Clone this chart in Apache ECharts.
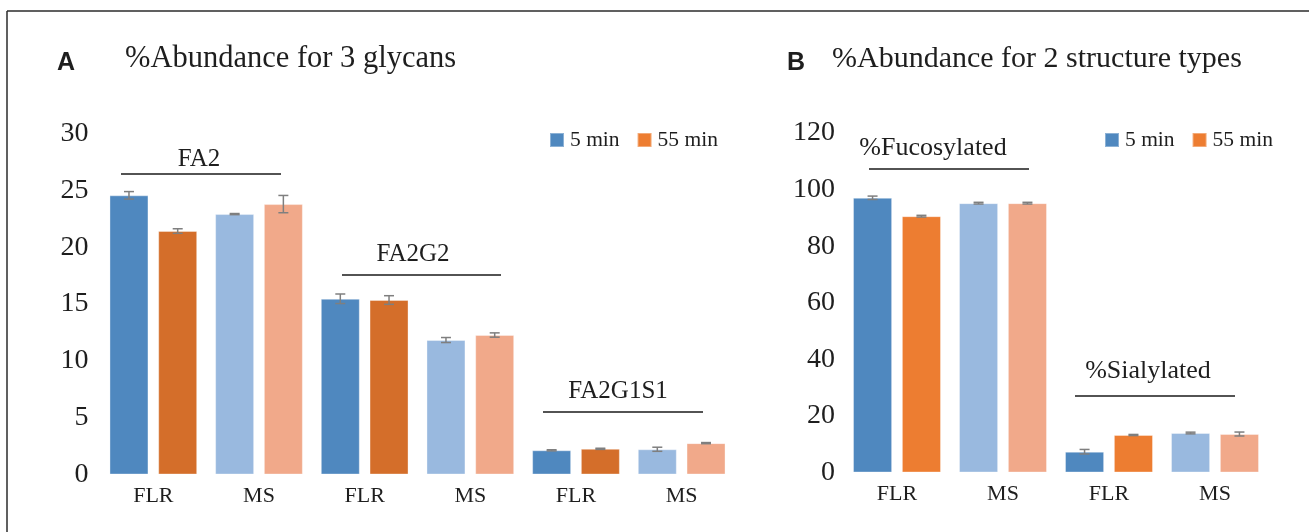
<!DOCTYPE html>
<html>
<head>
<meta charset="utf-8">
<script src="https://cdn.jsdelivr.net/npm/echarts@6/dist/echarts.min.js"></script>
<style>
html,body{margin:0;padding:0;background:#fff;}
#chart{width:1309px;height:532px;}
</style>
</head>
<body>
<div id="chart"></div>
<script>
// ---- data ----
const legendNames = ['5 min', '55 min'];
const categoriesA = ['FLR', 'MS', 'FLR', 'MS', 'FLR', 'MS'];
const a5min = [24.56, 22.91, 15.46, 11.83, 2.13, 2.22];
const a55min = [21.42, 23.79, 15.35, 12.27, 2.26, 2.76];
const a5minErr = [0.33, 0.05, 0.42, 0.22, 0.05, 0.18];
const a55minErr = [0.20, 0.76, 0.38, 0.19, 0.05, 0.05];
const groupLabelsA = ['FA2', 'FA2G2', 'FA2G1S1'];
const yTicksA = [0, 5, 10, 15, 20, 25, 30];

const categoriesB = ['FLR', 'MS', 'FLR', 'MS'];
const b5min = [97.1, 95.2, 7.35, 13.96];
const b55min = [90.6, 95.2, 13.25, 13.6];
const b5minErr = [0.6, 0.3, 0.8, 0.3];
const b55minErr = [0.3, 0.3, 0.2, 0.7];
const groupLabelsB = ['%Fucosylated', '%Sialylated'];
const yTicksB = [0, 20, 40, 60, 80, 100, 120];

const titleA = '%Abundance for 3 glycans';
const titleB = '%Abundance for 2 structure types';

// ---- style ----
const SERIF = '"Liberation Serif","Times New Roman",serif';
const SANS = '"Liberation Sans",Arial,sans-serif';
const TXT = '#1e1e1e';
const BLUE = '#4F88BF', LBLUE = '#99B9DF', SALMON = '#F1A98A';
const ORANGE = '#ED7D31', DORANGE = '#D46E2A';
const ERR = '#7F7F7F';
const BAR_CAT_GAP = 0.17, BAR_GAP = 0.25;

function colored(vals, cFLR, cMS) {
  return vals.map((v, i) => ({
    value: v,
    itemStyle: { color: i % 2 === 0 ? cFLR : cMS }
  }));
}
function errData(vals, errs) {
  return vals.map((v, i) => [i, v, errs[i]]);
}
function errSeries(name, vals, errs, xi, side) {
  return {
    type: 'custom', name: name, xAxisIndex: xi, yAxisIndex: xi, z: 10,
    silent: true,
    encode: { x: 0, y: 1 },
    data: errData(vals, errs),
    renderItem: function (params, api) {
      const i = api.value(0), v = api.value(1), e = api.value(2);
      const cw = api.size([1, 0])[0];
      const bw = cw * (1 - BAR_CAT_GAP) / (2 + BAR_GAP);
      const off = side * bw * (1 + BAR_GAP) / 2;
      const top = api.coord([i, v + e]);
      const bot = api.coord([i, v - e]);
      const x = top[0] + off;
      const hw = 5;
      const st = { stroke: ERR, lineWidth: 1.5 };
      return {
        type: 'group',
        children: [
          { type: 'line', shape: { x1: x, y1: top[1], x2: x, y2: bot[1] }, style: st },
          { type: 'line', shape: { x1: x - hw, y1: top[1], x2: x + hw, y2: top[1] }, style: st },
          { type: 'line', shape: { x1: x - hw, y1: bot[1], x2: x + hw, y2: bot[1] }, style: st }
        ]
      };
    }
  };
}
function barSeries(name, vals, cFLR, cMS, legendColor, xi) {
  return {
    type: 'bar', name: name, xAxisIndex: xi, yAxisIndex: xi,
    barGap: (BAR_GAP * 100) + '%', barCategoryGap: (BAR_CAT_GAP * 100) + '%',
    itemStyle: { color: legendColor, borderColor: 'rgba(255,255,255,0.35)', borderWidth: 1 },
    data: colored(vals, cFLR, cMS)
  };
}
function xAxis(cats, gi) {
  return {
    type: 'category', gridIndex: gi, data: cats,
    axisLine: { show: false }, axisTick: { show: false },
    axisLabel: { fontFamily: SERIF, fontSize: 22, color: TXT, margin: 11 }
  };
}
function yAxis(ticks, gi, margin) {
  return {
    type: 'value', gridIndex: gi,
    min: ticks[0], max: ticks[ticks.length - 1], interval: ticks[1] - ticks[0],
    splitLine: { show: false }, axisLine: { show: false }, axisTick: { show: false },
    axisLabel: { fontFamily: SERIF, fontSize: 28, color: TXT, margin: margin }
  };
}
function legend(left) {
  return {
    data: legendNames, left: left, top: 124, icon: 'rect',
    itemWidth: 14, itemHeight: 14, itemGap: 17, selectedMode: false,
    textStyle: { fontFamily: SERIF, fontSize: 21.5, color: TXT, padding: [0, 0, 0, 1] }
  };
}
function gText(t, x, y, font, align) {
  return { type: 'text', x: x, y: y, silent: true,
    style: { text: t, font: font, fill: TXT, textAlign: align || 'center', textVerticalAlign: 'middle' } };
}
function gLine(x1, x2, y, color, w) {
  return { type: 'line', silent: true, shape: { x1: x1, y1: y, x2: x2, y2: y },
    style: { stroke: color || '#1a1a1a', lineWidth: w || 1.5 } };
}

const chart = echarts.init(document.getElementById('chart'), null, { renderer: 'canvas' });
const option = {
  animation: false,
  backgroundColor: '#ffffff',
  grid: [
    { left: 100.5, top: 133.5, width: 634, height: 341 },
    { left: 844, top: 133, width: 424, height: 339.5 }
  ],
  xAxis: [xAxis(categoriesA, 0), xAxis(categoriesB, 1)],
  yAxis: [yAxis(yTicksA, 0, 12), yAxis(yTicksB, 1, 9)],
  legend: [legend(544), legend(1099)],
  series: [
    barSeries(legendNames[0], a5min, BLUE, LBLUE, BLUE, 0),
    barSeries(legendNames[1], a55min, DORANGE, SALMON, ORANGE, 0),
    errSeries('errA5', a5min, a5minErr, 0, -1),
    errSeries('errA55', a55min, a55minErr, 0, 1),
    barSeries(legendNames[0], b5min, BLUE, LBLUE, BLUE, 1),
    barSeries(legendNames[1], b55min, ORANGE, SALMON, ORANGE, 1),
    errSeries('errB5', b5min, b5minErr, 1, -1),
    errSeries('errB55', b55min, b55minErr, 1, 1)
  ],
  graphic: [
    // frame
    { type: 'line', silent: true, shape: { x1: 7, y1: 11, x2: 1309, y2: 11 }, style: { stroke: '#2b2b2b', lineWidth: 1.5 } },
    { type: 'line', silent: true, shape: { x1: 7, y1: 11, x2: 7, y2: 532 }, style: { stroke: '#2b2b2b', lineWidth: 1.5 } },
    // panel titles
    gText('A', 57, 63, 'bold 25px ' + SANS, 'left'),
    gText(titleA, 125, 59, '30.5px ' + SERIF, 'left'),
    gText('B', 787, 63, 'bold 25px ' + SANS, 'left'),
    gText(titleB, 832, 59, '30px ' + SERIF, 'left'),
    // group annotations A
    gText(groupLabelsA[0], 199, 159, '25px ' + SERIF),
    gLine(121, 281, 174),
    gText(groupLabelsA[1], 413, 254, '25px ' + SERIF),
    gLine(342, 501, 275),
    gText(groupLabelsA[2], 618, 391, '25px ' + SERIF),
    gLine(543, 703, 412),
    // group annotations B
    gText(groupLabelsB[0], 933, 148, '26px ' + SERIF),
    gLine(869, 1029, 169),
    gText(groupLabelsB[1], 1148, 371, '26px ' + SERIF),
    gLine(1075, 1235, 396)
  ]
};
chart.setOption(option);
</script>
</body>
</html>
